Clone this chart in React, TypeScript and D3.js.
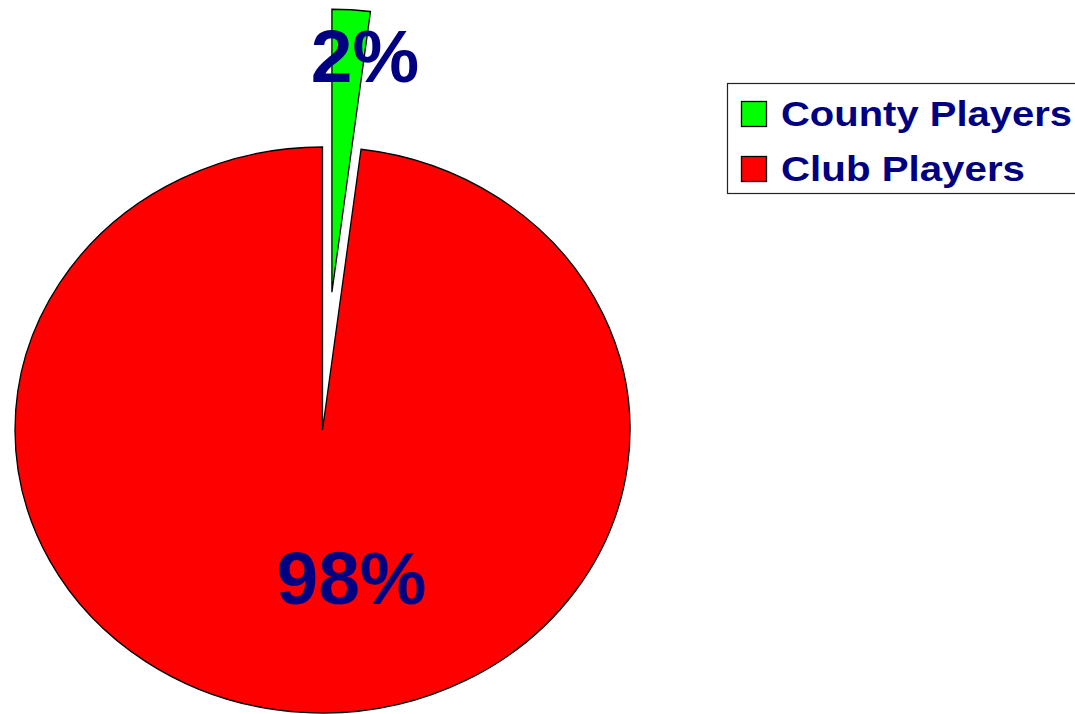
import React from "react";
import * as d3 from "d3";

const categories = ["County Players", "Club Players"];
const values = [2, 98];
const colors = ["#00FF00", "#FF0000"];
const labels = ["2%", "98%"];

const W = 1075;
const H = 714;
const cx = 322.5;
const cy = 430;
const ry = 283;
const rx = 307.5;
const sx = rx / ry;
const explode = [138, 0];
const labelPos = [
  { x: 365, y: 82 },
  { x: 351.5, y: 604 },
];
const legendTextLen = [291, 244];

export default function App() {
  const pie = d3
    .pie<number>()
    .sort(null)
    .startAngle(0)
    .endAngle(2 * Math.PI)
    .value((d) => d);
  const arcs = pie(values);
  const arc = d3.arc<d3.PieArcDatum<number>>().innerRadius(0).outerRadius(ry);
  const font = "'Liberation Sans', Arial, sans-serif";

  return (
    <div style={{ position: "fixed", left: 0, top: 0 }}>
      <svg width={W} height={H} style={{ display: "block", background: "#fff" }}>
        {arcs.map((a, i) => {
          const mid = (a.startAngle + a.endAngle) / 2;
          const dx = explode[i] * Math.sin(mid) * sx;
          const dy = -explode[i] * Math.cos(mid);
          return (
            <path
              key={categories[i]}
              d={arc(a) || ""}
              transform={`translate(${cx + dx},${cy + dy}) scale(${sx},1)`}
              fill={colors[i]}
              stroke="#000"
              strokeWidth={1.3}
              strokeLinejoin="miter"
              vectorEffect="non-scaling-stroke"
            />
          );
        })}
        {labels.map((t, i) => (
          <text
            key={t}
            x={labelPos[i].x}
            y={labelPos[i].y}
            textAnchor="middle"
            fontFamily={font}
            fontWeight="bold"
            fontSize={75}
            fill="#000080"
          >
            {t}
          </text>
        ))}
        <g>
          <rect x={727.5} y={83.5} width={360} height={110} fill="#fff" stroke="#222" strokeWidth={1.2} />
          {categories.map((c, i) => (
            <g key={c}>
              <rect
                x={741.5}
                y={101.5 + i * 55}
                width={25}
                height={25}
                fill={colors[i]}
                stroke="#000"
                strokeWidth={1.3}
              />
              <text
                x={781}
                y={125.5 + i * 55.5}
                fontFamily={font}
                fontWeight="bold"
                fontSize={35}
                fill="#000080"
                textLength={legendTextLen[i]}
                lengthAdjust="spacingAndGlyphs"
              >
                {c}
              </text>
            </g>
          ))}
        </g>
      </svg>
    </div>
  );
}
